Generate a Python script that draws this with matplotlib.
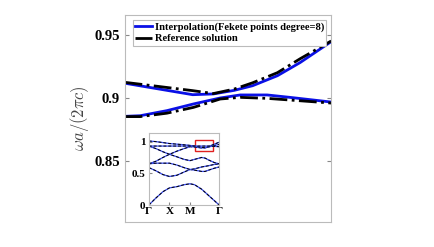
import matplotlib
matplotlib.use('Agg')
import matplotlib.pyplot as plt
from matplotlib.patches import Rectangle
import numpy as np

plt.rcParams['font.family'] = ['Liberation Serif', 'DejaVu Serif']
plt.rcParams['font.weight'] = 'bold'
plt.rcParams['mathtext.fontset'] = 'cm'

# zoomed part of the band structure (main axes)
x_main = [0.0, 0.17, 0.33, 0.43, 0.53, 0.62, 0.74, 0.85, 1.0]
interp_upper = [0.9117, 0.907, 0.9026, 0.9032, 0.906, 0.9097, 0.9176, 0.928, 0.9445]
ref_upper = [0.9124, 0.909, 0.9058, 0.9035, 0.907, 0.912, 0.920, 0.931, 0.945]

x_low = [0.0, 0.076, 0.205, 0.334, 0.463, 0.56, 0.69, 0.80, 1.0]
interp_lower = [0.8855, 0.886, 0.890, 0.8953, 0.900, 0.9024, 0.9024, 0.9005, 0.8968]
ref_lower = [0.8853, 0.8853, 0.888, 0.8926, 0.8992, 0.9005, 0.8997, 0.8984, 0.896]

# full band structure (inset), path Gamma-X-M-Gamma
k_path = [0.0, 0.1, 0.2, 0.293, 0.4, 0.5, 0.586, 0.65, 0.75, 0.8, 0.85, 0.93, 1.0]
bands = [
    [0.0, 0.11, 0.21, 0.27, 0.29, 0.32, 0.335, 0.32, 0.25, 0.20, 0.15, 0.07, 0.0],
    [0.59, 0.54, 0.48, 0.45, 0.47, 0.52, 0.56, 0.55, 0.53, 0.53, 0.55, 0.58, 0.60],
    [0.65, 0.66, 0.66, 0.66, 0.63, 0.59, 0.56, 0.57, 0.60, 0.61, 0.62, 0.64, 0.65],
    [0.65, 0.69, 0.75, 0.80, 0.85, 0.89, 0.92, 0.915, 0.90, 0.902, 0.915, 0.94, 0.955],
    [0.93, 0.89, 0.84, 0.80, 0.76, 0.72, 0.70, 0.72, 0.75, 0.74, 0.71, 0.67, 0.65],
    [1.01, 1.0, 0.985, 0.97, 0.96, 0.95, 0.94, 0.93, 0.91, 0.905, 0.92, 0.96, 0.99],
    [0.93, 0.93, 0.93, 0.93, 0.93, 0.93, 0.93, 0.93, 0.93, 0.93, 0.93, 0.925, 0.92],
]
k_ticks = [0.0, 0.293, 0.586, 1.0]
k_labels = ['Γ', 'X', 'M', 'Γ']

fig = plt.figure(figsize=(4.34, 2.47), dpi=100)
ax = fig.add_axes([0.287, 0.101, 0.476, 0.838])

ax.plot(x_main, interp_upper, color='#0a10e6', lw=2.0, label='Interpolation(Fekete points degree=8)')
ax.plot(x_low, interp_lower, color='#0a10e6', lw=2.0)
ax.plot(x_main, ref_upper, color='black', lw=2.0, ls='-.', label='Reference solution')
ax.plot(x_low, ref_lower, color='black', lw=2.0, ls='-.')

ax.set_xlim(0, 1)
ax.set_ylim(0.802, 0.9655)
ax.set_xticks([])
ax.set_yticks([0.85, 0.9, 0.95])
ax.set_yticklabels(['0.85', '0.9', '0.95'])
ax.tick_params(axis='y', direction='in', right=True, labelsize=10.5, length=3, color='#888888')
for lbl in ax.get_yticklabels():
    lbl.set_fontweight('bold')
for s in ax.spines.values():
    s.set_color('#bbbbbb')
ax.set_ylabel(r'$\omega a/(2\pi c)$', fontsize=12, color='#444444', labelpad=2)

leg = ax.legend(loc='upper left', bbox_to_anchor=(0.04, 0.975), fontsize=7.6,
                handlelength=1.6, handletextpad=0.3, borderpad=0.2, labelspacing=0.2,
                borderaxespad=0, fancybox=False, framealpha=1)
leg.get_frame().set_edgecolor('#bbbbbb')
leg.get_frame().set_linewidth(0.8)
for t in leg.get_texts():
    t.set_fontweight('bold')

ins = fig.add_axes([0.343, 0.170, 0.162, 0.290])
for b in bands:
    ins.plot(k_path, b, color='#3a4cf0', lw=0.9)
    ins.plot(k_path, b, color='black', lw=0.7, ls=(0, (3, 2)))
ins.add_patch(Rectangle((0.654, 0.85), 0.26, 0.17, fill=False, edgecolor='#e02020', lw=1.0))
ins.set_xlim(0, 1)
ins.set_ylim(0, 1.13)
ins.set_xticks(k_ticks)
ins.set_xticklabels(k_labels)
ins.set_yticks([0, 0.5, 1])
ins.set_yticklabels(['0', '0.5', '1'])
ins.tick_params(direction='in', labelsize=8, length=2, pad=1.5, color='#888888')
ins.tick_params(axis='y', pad=2.5)
for lbl in ins.get_xticklabels() + ins.get_yticklabels():
    lbl.set_fontweight('bold')
for s in ins.spines.values():
    s.set_color('#bbbbbb')

fig.savefig('out.png', dpi=100)
